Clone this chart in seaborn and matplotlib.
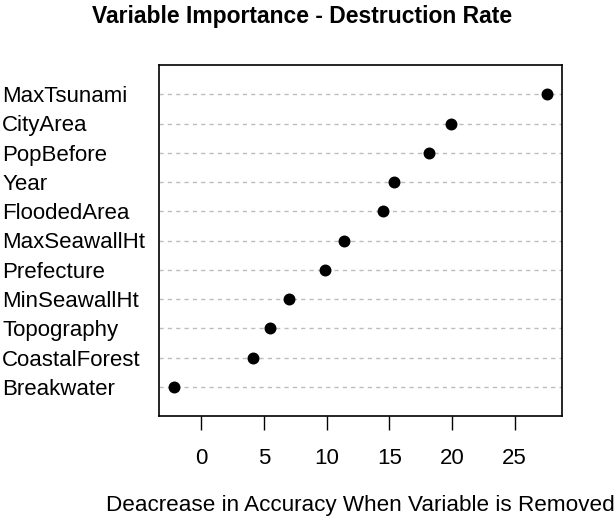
import matplotlib
matplotlib.use("Agg")
import matplotlib.pyplot as plt
import seaborn as sns
import pandas as pd

# variable importance values (top to bottom)
variables = ["MaxTsunami", "CityArea", "PopBefore", "Year", "FloodedArea",
             "MaxSeawallHt", "Prefecture", "MinSeawallHt", "Topography",
             "CoastalForest", "Breakwater"]
importance = [27.6, 19.9, 18.2, 15.4, 14.5, 11.4, 9.9, 7.0, 5.5, 4.1, -2.2]
x_ticks = [0, 5, 10, 15, 20, 25]

df = pd.DataFrame({"variable": variables, "importance": importance})

sns.set_theme(style="white")
plt.rcParams["font.family"] = ["Liberation Sans", "DejaVu Sans"]

fig = plt.figure(figsize=(6.14, 5.24), dpi=100)
ax = fig.add_axes([159 / 614, 108 / 524, (562 - 159) / 614, (416 - 65) / 524])

sns.stripplot(data=df, x="importance", y="variable", order=variables,
              jitter=False, color="black", size=8.6, ax=ax, zorder=3)

ax.set_xlim(-3.39, 28.79)
ax.set_ylim(len(variables), -1)
ax.set_xticks(x_ticks)
ax.tick_params(axis="x", direction="out", length=10, width=1, color="black",
               bottom=True, pad=13, labelsize=16, labelcolor="black")
ax.tick_params(axis="y", length=0, pad=113, labelsize=16, labelcolor="black")
for lab in ax.get_yticklabels():
    lab.set_ha("left")

ax.yaxis.grid(True, linestyle=(0, (3, 3)), color="#bdbdbd", linewidth=1)
ax.xaxis.grid(False)
for sp in ax.spines.values():
    sp.set_color("black")
    sp.set_linewidth(1.2)

ax.set_ylabel("")
ax.set_xlabel("")
fig.text(360 / 614, 1 - 505 / 524, "Deacrease in Accuracy When Variable is Removed",
         ha="center", va="center", fontsize=16.2, color="black")
fig.text(302 / 614, 1 - 16 / 524, "Variable Importance - Destruction Rate",
         ha="center", va="center", fontsize=16.5, fontweight="bold", color="black")

fig.savefig("out.png", dpi=100)
